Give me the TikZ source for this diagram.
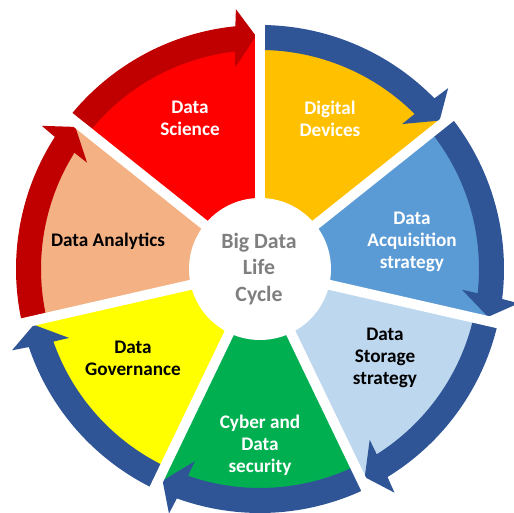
\documentclass[tikz,border=0pt]{standalone}
\usepackage{fontspec}
\setmainfont{Carlito}
\definecolor{cDev}{HTML}{FFC000}
\definecolor{cAcq}{HTML}{5B9BD5}
\definecolor{cSto}{HTML}{BDD7EE}
\definecolor{cCyb}{HTML}{00B050}
\definecolor{cGov}{HTML}{FFFF00}
\definecolor{cAna}{HTML}{F4B183}
\definecolor{cSci}{HTML}{FF0000}
\definecolor{cBlueArr}{HTML}{2F5597}
\definecolor{cRedArr}{HTML}{C00000}
\definecolor{cCenter}{HTML}{7F7F7F}
\newcommand\cyclesector[3]{%
  \fill[#3] (0,0) -- (#1:233pt) arc[start angle=#1, end angle=#2, radius=233pt] -- cycle;}
\newcommand\cyclearrow[3]{%
  \pgfmathsetmacro\cas{#1}%
  \pgfmathsetmacro\cbo{#2+5.3}%
  \pgfmathsetmacro\cbi{#2+7.0}%
  \pgfmathsetmacro\cjo{#2+5.8}%
  \pgfmathsetmacro\cji{#2+6.5}%
  \pgfmathsetmacro\ctip{#2+1.0}%
  \fill[#3] (\cas:244pt) arc[start angle=\cas, end angle=\cjo, radius=244pt]
    -- (\cbo:261pt) -- (\ctip:233pt) -- (\cbi:203pt) -- (\cji:219pt)
    arc[start angle=\cji, end angle=\cas, radius=219pt] -- cycle;}
\begin{document}
\begin{tikzpicture}[x=1pt,y=1pt,
  lbl/.style={align=center, font=\fontsize{19.2}{21.8}\selectfont\bfseries, inner sep=0pt},
  centerlbl/.style={align=center, font=\fontsize{21.8}{26.8}\selectfont\bfseries, text=cCenter, inner sep=0pt}]
\useasboundingbox (-260,-244) rectangle (254,269);
% sectors
\cyclesector{90}{38.571}{cDev}
\cyclesector{38.571}{-12.857}{cAcq}
\cyclesector{-12.857}{-64.286}{cSto}
\cyclesector{-64.286}{-115.714}{cCyb}
\cyclesector{-115.714}{-167.143}{cGov}
\cyclesector{-167.143}{-218.571}{cAna}
\cyclesector{141.429}{90}{cSci}
% arrows
\cyclearrow{90}{38.571}{cBlueArr}
\cyclearrow{38.571}{-12.857}{cBlueArr}
\cyclearrow{-12.857}{-64.286}{cBlueArr}
\cyclearrow{-64.286}{-115.714}{cBlueArr}
\cyclearrow{-115.714}{-167.143}{cBlueArr}
\cyclearrow{192.857}{141.429}{cRedArr}
\cyclearrow{141.429}{90}{cRedArr}
% gaps
\foreach \a in {90,38.571,-12.857,-64.286,-115.714,-167.143,141.429}
  \draw[white, line width=10pt] (0,0) -- (\a:272pt);
\fill[white] (0,0) circle[radius=71pt];
% labels
\node[lbl, text=white] (sci) at (-70,150.5) {Data\\Science};
\node[lbl, text=white] (dev) at (70,150.5) {Digital\\Devices};
\node[lbl, text=white] (acq) at (152,27) {Data\\Acquisition\\strategy};
\node[lbl, text=black] (sto) at (125,-89) {Data\\Storage\\strategy};
\node[lbl, text=white] (cyb) at (0,-176) {Cyber and\\Data\\security};
\node[lbl, text=black] (gov) at (-127,-89) {Data\\Governance};
\node[lbl, text=black] (ana) at (-152,27.5) {Data Analytics};
\node[centerlbl] (ctr) at (-1,0) {Big Data\\Life\\Cycle};
\end{tikzpicture}
\end{document}
